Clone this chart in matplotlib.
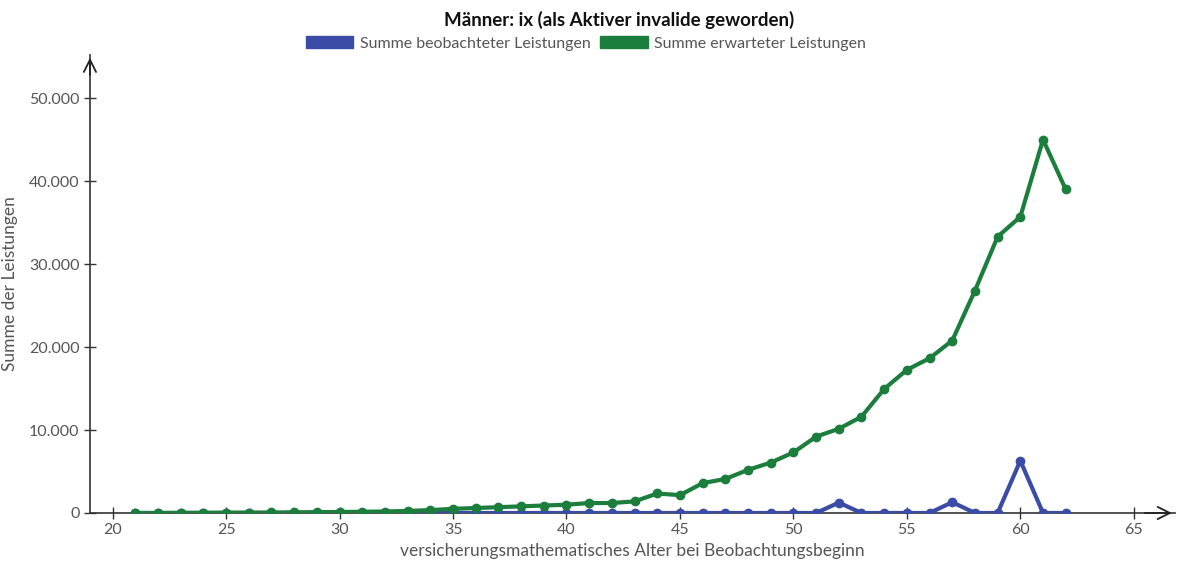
import matplotlib.pyplot as plt
from matplotlib.patches import Patch
from matplotlib.ticker import FuncFormatter

plt.rcParams['font.family'] = ['Lato', 'DejaVu Sans']

alter = list(range(21, 63))
beobachtet = [0] * 31 + [1250, 0, 0, 0, 0, 1300, 0, 0, 6300, 0, 0]
erwartet = [0, 0, 20, 30, 40, 50, 60, 80, 100, 120, 150, 180, 250, 350,
            500, 600, 700, 800, 900, 1000, 1200, 1200, 1400, 2350, 2150,
            3600, 4100, 5200, 6070, 7300, 9200, 10150, 11600, 14950,
            17250, 18650, 20780, 26800, 33300, 35700, 45000, 39000]

blau = '#3a4ca6'
gruen = '#1b7e3c'
grau = '#555555'

fig = plt.figure(figsize=(11.79, 5.62), dpi=100)
ax = fig.add_axes([0.0763, 0.0872, 0.92, 0.815])

ax.plot(alter, beobachtet, color=blau, lw=3, marker='o', ms=6, zorder=3)
ax.plot(alter, erwartet, color=gruen, lw=3, marker='o', ms=6, zorder=4)

ax.set_xlim(19, 66.8)
ax.set_ylim(0, 55200)
ax.set_xticks([20, 25, 30, 35, 40, 45, 50, 55, 60, 65])
ax.set_yticks([0, 10000, 20000, 30000, 40000, 50000])
ax.yaxis.set_major_formatter(FuncFormatter(lambda v, p: f'{int(v):,}'.replace(',', '.')))

for s in ['top', 'right']:
    ax.spines[s].set_visible(False)
for s in ['left', 'bottom']:
    ax.spines[s].set_color('#333333')
    ax.spines[s].set_linewidth(1.2)
ax.tick_params(direction='inout', length=8, width=1, colors='#333333',
               labelcolor=grau, labelsize=11.5)

# Pfeilspitzen an den Achsen
ax.annotate('', xy=(1.0, 0), xytext=(0.97, 0), xycoords='axes fraction',
            arrowprops=dict(arrowstyle='->', color='#222222', lw=1.3, mutation_scale=22),
            annotation_clip=False)
ax.annotate('', xy=(0, 1.0), xytext=(0, 0.95), xycoords='axes fraction',
            arrowprops=dict(arrowstyle='->', color='#222222', lw=1.3, mutation_scale=22),
            annotation_clip=False)

ax.set_xlabel('versicherungsmathematisches Alter bei Beobachtungsbeginn', color=grau, fontsize=12.5)
ax.set_ylabel('Summe der Leistungen', color=grau, fontsize=12.5)
ax.yaxis.set_label_coords(-0.066, 0.5)

fig.text(0.525, 0.965, 'Männer: ix (als Aktiver invalide geworden)', ha='center', va='center',
         fontsize=13.5, fontweight='bold', color='#111111')
handles = [Patch(color=blau, label='Summe beobachteter Leistungen'),
           Patch(color=gruen, label='Summe erwarteter Leistungen')]
leg = fig.legend(handles=handles, loc='center', bbox_to_anchor=(0.497, 0.923), ncol=2,
                 frameon=False, fontsize=11.5, handlelength=3, handleheight=0.8,
                 columnspacing=0.6, handletextpad=0.4)
for t in leg.get_texts():
    t.set_color(grau)

fig.savefig('out.png', dpi=100)
